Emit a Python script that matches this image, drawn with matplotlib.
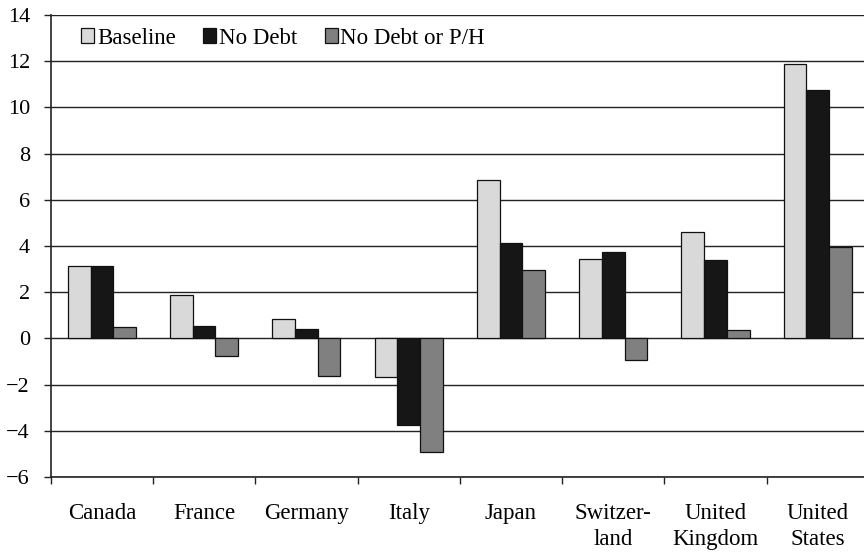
import matplotlib
matplotlib.use("Agg")
import matplotlib.pyplot as plt
import numpy as np

countries = ["Canada", "France", "Germany", "Italy", "Japan",
             "Switzer-\nland", "United\nKingdom", "United\nStates"]
baseline = [3.14, 1.86, 0.83, -1.67, 6.84, 3.44, 4.61, 11.87]
no_debt = [3.14, 0.53, 0.42, -3.74, 4.13, 3.74, 3.38, 10.74]
no_debt_ph = [0.50, -0.75, -1.64, -4.94, 2.98, -0.92, 0.38, 3.96]
series_names = ["Baseline", "No Debt", "No Debt or P/H"]
y_ticks = list(range(-6, 15, 2))

plt.rcParams["font.family"] = ["Liberation Serif", "DejaVu Serif"]

fig = plt.figure(figsize=(8.64, 5.52), dpi=100)
ax = fig.add_axes([0.0587, 0.1359, 0.947, 0.8369])

x = np.arange(len(countries)) + 0.5
w = 0.222
colors = ["#d9d9d9", "#161616", "#808080"]
for k, (vals, name, col) in enumerate(zip([baseline, no_debt, no_debt_ph], series_names, colors)):
    ax.bar(x + (k - 1) * w, vals, width=w, color=col, edgecolor="#111111",
           linewidth=0.9, label=name, zorder=3)

ax.set_xlim(0, len(countries))
ax.set_ylim(-6, 14)
ax.set_yticks(y_ticks)
ax.set_yticklabels([f"\u2212{abs(v)}" if v < 0 else str(v) for v in y_ticks], fontsize=16)
ax.yaxis.grid(True, color="#222222", linewidth=1.0, zorder=0)
ax.set_axisbelow(True)

# category boundaries carry the ticks, centres carry the names
ax.set_xticks(np.arange(len(countries) + 1))
ax.set_xticklabels([])
ax.set_xticks(x, minor=True)
ax.set_xticklabels(countries, minor=True, fontsize=16.5, linespacing=1.3)
ax.tick_params(axis="x", which="major", length=5, width=1, direction="out", color="#222222")
ax.tick_params(axis="x", which="minor", length=0, pad=19)
ax.tick_params(axis="y", length=5, width=1, direction="out", color="#222222", pad=10)

for s in ["top", "right"]:
    ax.spines[s].set_visible(False)
for s in ["left", "bottom"]:
    ax.spines[s].set_color("#222222")
    ax.spines[s].set_linewidth(1.2)

ax.legend(loc="center left", bbox_to_anchor=(0.037, 0.95), ncol=3, frameon=False,
          fontsize=16.5, handlelength=0.57, handleheight=0.57, handletextpad=0.12,
          columnspacing=1.2, borderaxespad=0, borderpad=0)

fig.savefig("out.png", dpi=100)
